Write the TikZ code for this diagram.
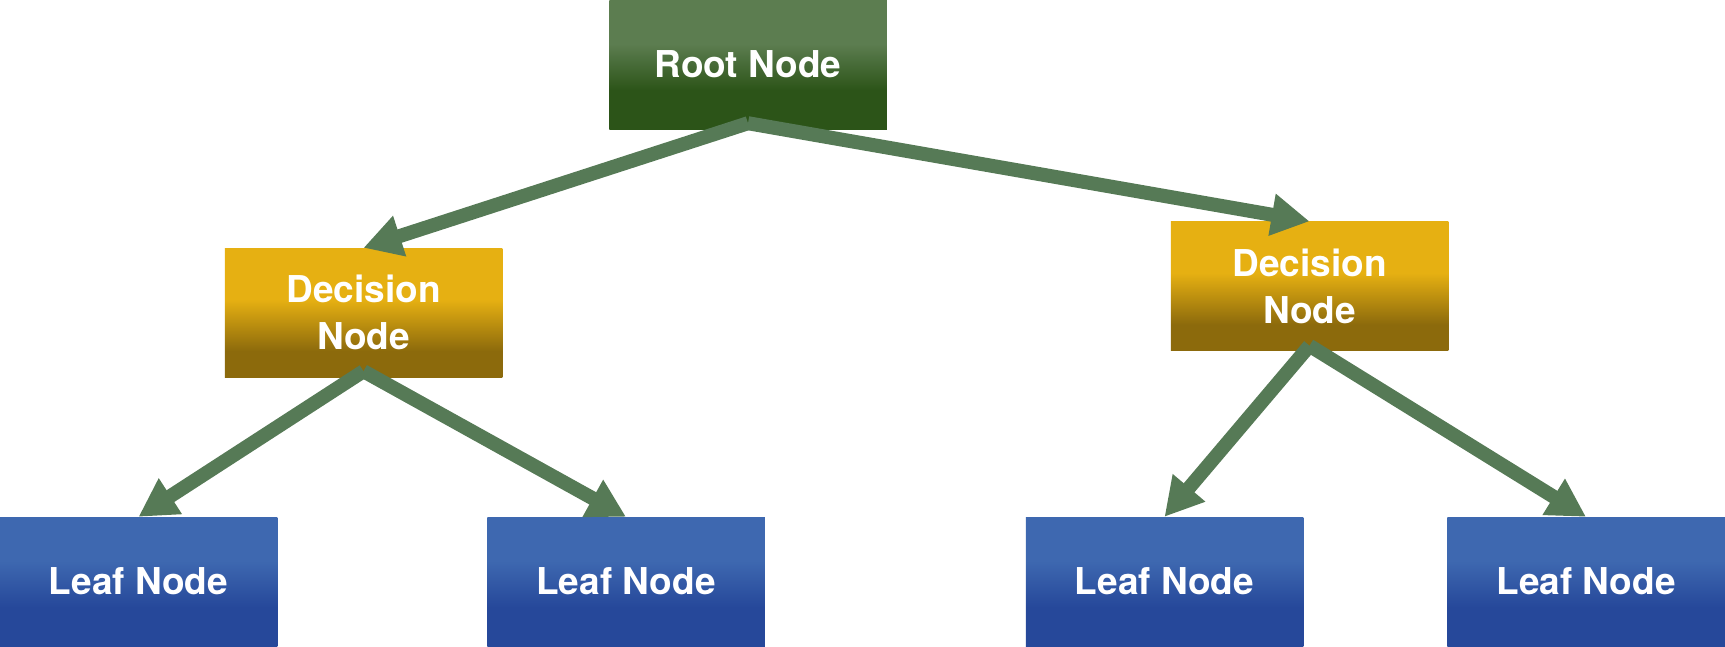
\documentclass[tikz,border=0pt]{standalone}
\usepackage{fontspec}
\setmainfont{TeX Gyre Heros}
\usetikzlibrary{arrows.meta}
\definecolor{rootTop}{RGB}{92,125,80}
\definecolor{rootBot}{RGB}{44,84,24}
\definecolor{decTop}{RGB}{230,176,18}
\definecolor{decBot}{RGB}{140,106,12}
\definecolor{leafTop}{RGB}{62,104,176}
\definecolor{leafBot}{RGB}{38,72,154}
\definecolor{arrowcol}{RGB}{86,122,86}
\pgfdeclareverticalshading{rootshade}{100bp}{color(0bp)=(rootBot); color(40bp)=(rootBot); color(58bp)=(rootTop); color(100bp)=(rootTop)}
\pgfdeclareverticalshading{decshade}{100bp}{color(0bp)=(decBot); color(35bp)=(decBot); color(55bp)=(decTop); color(100bp)=(decTop)}
\pgfdeclareverticalshading{leafshade}{100bp}{color(0bp)=(leafBot); color(40bp)=(leafBot); color(58bp)=(leafTop); color(100bp)=(leafTop)}
\begin{document}
\begin{tikzpicture}[x=1pt,y=-1pt,
  box/.style={rectangle, minimum width=277.5pt, minimum height=129pt, inner sep=0pt,
    text=white, font=\fontsize{37}{47}\selectfont\bfseries, align=center},
  rootbox/.style={box, shading=rootshade},
  decbox/.style={box, shading=decshade},
  leafbox/.style={box, shading=leafshade},
  conn/.style={draw=arrowcol, line width=14pt, -{Triangle[length=38pt,width=40pt]}}]
\useasboundingbox (0,0) rectangle (1725,646);
\node[rootbox] (root) at (748,64.5) {Root Node};
\node[decbox] (dl) at (363.5,312.5) {Decision\\Node};
\node[decbox] (dr) at (1309.5,286) {Decision\\Node};
\node[leafbox] (l1) at (138.5,581.5) {Leaf Node};
\node[leafbox] (l2) at (626,581.5) {Leaf Node};
\node[leafbox] (l3) at (1164.5,581.5) {Leaf Node};
\node[leafbox] (l4) at (1586,581.5) {Leaf Node};
\draw[conn] ([yshift=6pt]root.south) -- (dl.north);
\draw[conn] ([yshift=6pt]root.south) -- (dr.north);
\draw[conn] ([yshift=6pt]dl.south) -- (l1.north);
\draw[conn] ([yshift=6pt]dl.south) -- (l2.north);
\draw[conn] ([yshift=5pt]dr.south) -- (l3.north);
\draw[conn] ([yshift=5pt]dr.south) -- (l4.north);
\end{tikzpicture}
\end{document}
